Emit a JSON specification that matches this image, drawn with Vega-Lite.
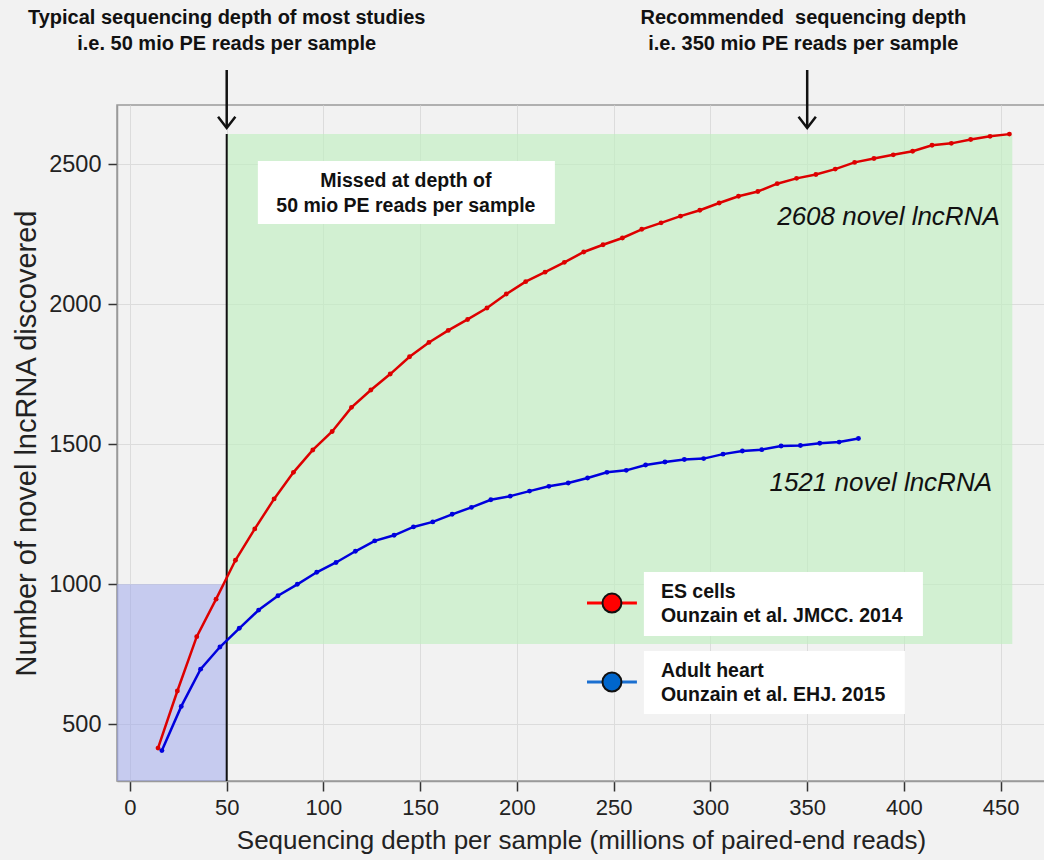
{
  "$schema": "https://vega.github.io/schema/vega-lite/v6.json",
  "autosize": {"type": "none"},
  "padding": {"left": 117, "top": 105, "right": 0, "bottom": 79},
  "width": 928,
  "height": 676,
  "background": "#f2f2f2",
  "config": {
    "view": {"stroke": "#9a9a9a", "strokeWidth": 1.5, "fill": "#f2f2f2"},
    "font": "Liberation Sans"
  },
  "datasets": {
    "curves": [
      {"series": "ES", "x": 14.5, "y": 415}, {"series": "ES", "x": 24.5, "y": 619}, {"series": "ES", "x": 34.5, "y": 813},
      {"series": "ES", "x": 44.5, "y": 947}, {"series": "ES", "x": 54.5, "y": 1086}, {"series": "ES", "x": 64.5, "y": 1198},
      {"series": "ES", "x": 74.5, "y": 1305}, {"series": "ES", "x": 84.5, "y": 1400}, {"series": "ES", "x": 94.5, "y": 1480},
      {"series": "ES", "x": 104.5, "y": 1546}, {"series": "ES", "x": 114.5, "y": 1632}, {"series": "ES", "x": 124.5, "y": 1694},
      {"series": "ES", "x": 134.5, "y": 1751}, {"series": "ES", "x": 144.5, "y": 1813}, {"series": "ES", "x": 154.5, "y": 1864},
      {"series": "ES", "x": 164.5, "y": 1907}, {"series": "ES", "x": 174.5, "y": 1946}, {"series": "ES", "x": 184.5, "y": 1987},
      {"series": "ES", "x": 194.5, "y": 2037}, {"series": "ES", "x": 204.5, "y": 2081}, {"series": "ES", "x": 214.5, "y": 2115},
      {"series": "ES", "x": 224.5, "y": 2150}, {"series": "ES", "x": 234.5, "y": 2187}, {"series": "ES", "x": 244.5, "y": 2213},
      {"series": "ES", "x": 254.5, "y": 2237}, {"series": "ES", "x": 264.5, "y": 2268}, {"series": "ES", "x": 274.5, "y": 2291},
      {"series": "ES", "x": 284.5, "y": 2315}, {"series": "ES", "x": 294.5, "y": 2336}, {"series": "ES", "x": 304.5, "y": 2362},
      {"series": "ES", "x": 314.5, "y": 2386}, {"series": "ES", "x": 324.5, "y": 2403}, {"series": "ES", "x": 334.5, "y": 2431},
      {"series": "ES", "x": 344.5, "y": 2450}, {"series": "ES", "x": 354.5, "y": 2464}, {"series": "ES", "x": 364.5, "y": 2483},
      {"series": "ES", "x": 374.5, "y": 2507}, {"series": "ES", "x": 384.5, "y": 2521}, {"series": "ES", "x": 394.5, "y": 2534},
      {"series": "ES", "x": 404.5, "y": 2547}, {"series": "ES", "x": 414.5, "y": 2568}, {"series": "ES", "x": 424.5, "y": 2575},
      {"series": "ES", "x": 434.5, "y": 2589}, {"series": "ES", "x": 444.5, "y": 2600}, {"series": "ES", "x": 454.5, "y": 2608},
      {"series": "Heart", "x": 16.5, "y": 406}, {"series": "Heart", "x": 26.5, "y": 564}, {"series": "Heart", "x": 36.5, "y": 697},
      {"series": "Heart", "x": 46.5, "y": 776}, {"series": "Heart", "x": 56.5, "y": 843}, {"series": "Heart", "x": 66.5, "y": 908},
      {"series": "Heart", "x": 76.5, "y": 959}, {"series": "Heart", "x": 86.5, "y": 1000}, {"series": "Heart", "x": 96.5, "y": 1043},
      {"series": "Heart", "x": 106.5, "y": 1078}, {"series": "Heart", "x": 116.5, "y": 1118}, {"series": "Heart", "x": 126.5, "y": 1155},
      {"series": "Heart", "x": 136.5, "y": 1175}, {"series": "Heart", "x": 146.5, "y": 1205}, {"series": "Heart", "x": 156.5, "y": 1223},
      {"series": "Heart", "x": 166.5, "y": 1250}, {"series": "Heart", "x": 176.5, "y": 1275}, {"series": "Heart", "x": 186.5, "y": 1302},
      {"series": "Heart", "x": 196.5, "y": 1315}, {"series": "Heart", "x": 206.5, "y": 1333}, {"series": "Heart", "x": 216.5, "y": 1350},
      {"series": "Heart", "x": 226.5, "y": 1362}, {"series": "Heart", "x": 236.5, "y": 1380}, {"series": "Heart", "x": 246.5, "y": 1400},
      {"series": "Heart", "x": 256.5, "y": 1407}, {"series": "Heart", "x": 266.5, "y": 1426}, {"series": "Heart", "x": 276.5, "y": 1437},
      {"series": "Heart", "x": 286.5, "y": 1446}, {"series": "Heart", "x": 296.5, "y": 1449}, {"series": "Heart", "x": 306.5, "y": 1465},
      {"series": "Heart", "x": 316.5, "y": 1476}, {"series": "Heart", "x": 326.5, "y": 1481}, {"series": "Heart", "x": 336.5, "y": 1494},
      {"series": "Heart", "x": 346.5, "y": 1496}, {"series": "Heart", "x": 356.5, "y": 1504}, {"series": "Heart", "x": 366.5, "y": 1508},
      {"series": "Heart", "x": 376.5, "y": 1521}
    ],
    "green": [{"x": 50, "x2": 456, "y": 787, "y2": 2608}],
    "blue": [{"x": -6.7, "x2": 50, "y": 297.5, "y2": 1000}],
    "vline": [{"x": 50, "y": 297.5, "y2": 2608}],
    "arrows": [{"x": 50, "y": 2630, "y2": 2837}, {"x": 350, "y": 2630, "y2": 2837}],
    "toptext": [
      {"x": 50, "y": 3022, "label": "Typical sequencing depth of most studies"},
      {"x": 50, "y": 2930, "label": "i.e. 50 mio PE reads per sample"},
      {"x": 348, "y": 3022, "label": "Recommended\u00a0 sequencing depth"},
      {"x": 348, "y": 2930, "label": "i.e. 350 mio PE reads per sample"}
    ],
    "boxes": [
      {"x": 66.1, "x2": 219.6, "y": 2287, "y2": 2512},
      {"x": 265.6, "x2": 409.8, "y": 815, "y2": 1044},
      {"x": 265.6, "x2": 400.5, "y": 537, "y2": 762}
    ],
    "boxtext": [
      {"x": 142.6, "y": 2440, "label": "Missed at depth of"},
      {"x": 142.6, "y": 2351, "label": "50 mio PE reads per sample"}
    ],
    "legendtext": [
      {"x": 274.4, "y": 972, "label": "ES cells"},
      {"x": 274.4, "y": 887, "label": "Ounzain et al. JMCC. 2014"},
      {"x": 274.4, "y": 690, "label": "Adult heart"},
      {"x": 274.4, "y": 605, "label": "Ounzain et al. EHJ. 2015"}
    ],
    "italic": [
      {"x": 392, "y": 2312, "label": "2608 novel lncRNA"},
      {"x": 388, "y": 1362, "label": "1521 novel lncRNA"}
    ],
    "legsym": [
      {"series": "ES", "x": 236.2, "x2": 262, "xc": 249.1, "y": 933},
      {"series": "Heart", "x": 236.2, "x2": 262, "xc": 249.1, "y": 651}
    ]
  },
  "encoding": {
    "x": {
      "field": "x", "type": "quantitative",
      "scale": {"domain": [-6.7, 472.9], "nice": false, "zero": false},
      "axis": {
        "title": "Sequencing depth per sample (millions of paired-end reads)",
        "values": [0, 50, 100, 150, 200, 250, 300, 350, 400, 450],
        "format": "d",
        "grid": true, "gridColor": "#dcdcdc", "gridWidth": 1,
        "domainColor": "#9a9a9a", "domainWidth": 1.5,
        "tickColor": "#333333", "tickSize": 10, "tickWidth": 1.5,
        "labelFont": "Liberation Sans", "labelFontSize": 22, "labelColor": "#222222", "labelPadding": 6,
        "titleFont": "Liberation Sans", "titleFontSize": 26, "titleFontWeight": "normal", "titleColor": "#222222", "titlePadding": 9
      }
    },
    "y": {
      "field": "y", "type": "quantitative",
      "scale": {"domain": [297.5, 2712], "nice": false, "zero": false},
      "axis": {
        "title": "Number of novel lncRNA discovered",
        "values": [500, 1000, 1500, 2000, 2500],
        "format": "d",
        "grid": true, "gridColor": "#dcdcdc", "gridWidth": 1,
        "domainColor": "#9a9a9a", "domainWidth": 1.5,
        "tickColor": "#333333", "tickSize": 9, "tickWidth": 1.5,
        "labelFont": "Liberation Sans", "labelFontSize": 23.5, "labelColor": "#222222", "labelPadding": 7,
        "titleFont": "Liberation Sans", "titleFontSize": 29, "titleFontWeight": "normal", "titleColor": "#222222", "titlePadding": 7
      }
    }
  },
  "layer": [
    {
      "data": {"name": "green"},
      "mark": {"type": "rect", "fill": "#c0eec0", "opacity": 0.65},
      "encoding": {"x2": {"field": "x2"}, "y2": {"field": "y2"}}
    },
    {
      "data": {"name": "blue"},
      "mark": {"type": "rect", "fill": "#9aa4ec", "opacity": 0.5},
      "encoding": {"x2": {"field": "x2"}, "y2": {"field": "y2"}}
    },
    {
      "data": {"name": "vline"},
      "mark": {"type": "rule", "color": "#111111", "strokeWidth": 2},
      "encoding": {"y2": {"field": "y2"}}
    },
    {
      "data": {"name": "curves"},
      "mark": {"type": "line", "strokeWidth": 2.5, "point": {"size": 24, "filled": true}},
      "encoding": {
        "color": {"field": "series", "type": "nominal", "scale": {"domain": ["ES", "Heart"], "range": ["#dd0000", "#0000dd"]}, "legend": null}
      }
    },
    {
      "data": {"name": "arrows"},
      "mark": {"type": "rule", "color": "#111111", "strokeWidth": 2.5},
      "encoding": {"y2": {"field": "y2"}}
    },
    {
      "data": {"name": "arrows"},
      "mark": {"type": "point", "shape": "M-1,-1.3L0,0L1,-1.3", "filled": false, "stroke": "#111111", "strokeWidth": 2.5, "size": 300, "opacity": 1}
    },
    {
      "data": {"name": "toptext"},
      "mark": {"type": "text", "font": "Liberation Sans", "fontSize": 20, "fontWeight": "bold", "color": "#111111", "align": "center", "baseline": "middle"},
      "encoding": {"text": {"field": "label"}}
    },
    {
      "data": {"name": "boxes"},
      "mark": {"type": "rect", "fill": "#ffffff"},
      "encoding": {"x2": {"field": "x2"}, "y2": {"field": "y2"}}
    },
    {
      "data": {"name": "boxtext"},
      "mark": {"type": "text", "font": "Liberation Sans", "fontSize": 19.5, "fontWeight": "bold", "color": "#111111", "align": "center", "baseline": "middle"},
      "encoding": {"text": {"field": "label"}}
    },
    {
      "data": {"name": "legendtext"},
      "mark": {"type": "text", "font": "Liberation Sans", "fontSize": 19.5, "fontWeight": "bold", "color": "#111111", "align": "left", "baseline": "middle"},
      "encoding": {"text": {"field": "label"}}
    },
    {
      "data": {"name": "italic"},
      "mark": {"type": "text", "font": "Liberation Sans", "fontSize": 26, "fontStyle": "italic", "color": "#111111", "align": "center", "baseline": "middle"},
      "encoding": {"text": {"field": "label"}}
    },
    {
      "data": {"name": "legsym"},
      "transform": [{"filter": "datum.series === 'ES'"}],
      "mark": {"type": "rule", "color": "#ff0000", "strokeWidth": 3},
      "encoding": {"x2": {"field": "x2"}}
    },
    {
      "data": {"name": "legsym"},
      "transform": [{"filter": "datum.series === 'Heart'"}],
      "mark": {"type": "rule", "color": "#1a6fd0", "strokeWidth": 3},
      "encoding": {"x2": {"field": "x2"}}
    },
    {
      "data": {"name": "legsym"},
      "transform": [{"filter": "datum.series === 'ES'"}],
      "mark": {"type": "point", "shape": "circle", "filled": true, "fill": "#ff0000", "stroke": "#111111", "strokeWidth": 2, "size": 360, "opacity": 1},
      "encoding": {"x": {"field": "xc", "type": "quantitative"}}
    },
    {
      "data": {"name": "legsym"},
      "transform": [{"filter": "datum.series === 'Heart'"}],
      "mark": {"type": "point", "shape": "circle", "filled": true, "fill": "#0066cc", "stroke": "#111111", "strokeWidth": 2, "size": 360, "opacity": 1},
      "encoding": {"x": {"field": "xc", "type": "quantitative"}}
    }
  ]
}
